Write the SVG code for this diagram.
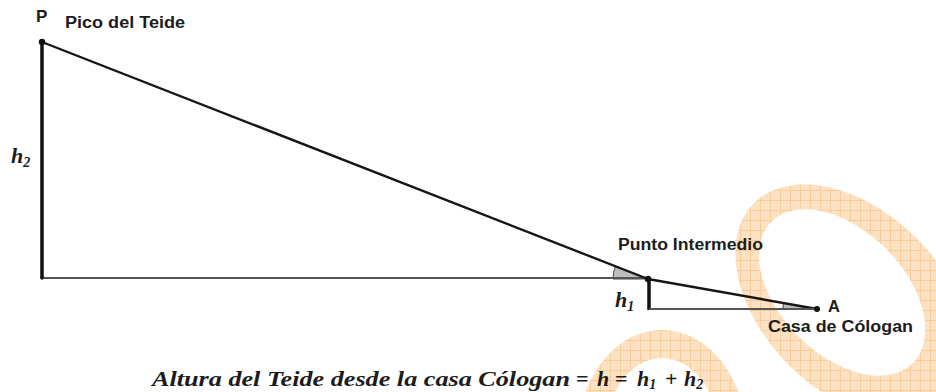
<svg xmlns="http://www.w3.org/2000/svg" width="936" height="392" viewBox="0 0 936 392">
<style>
.lbl{font-family:"Liberation Sans",Arial,sans-serif;font-weight:bold;fill:#1c1c1c}
.math{font-family:"Liberation Serif","Times New Roman",serif;font-style:italic;font-weight:bold;fill:#1c1c1c}
.op{font-family:"Liberation Serif","Times New Roman",serif;font-weight:bold;fill:#1c1c1c}
.thick{stroke:#111;stroke-width:3.5;fill:none}
.slope{stroke:#161616;stroke-width:2.4;fill:none;stroke-linecap:round}
.base{stroke:#555;stroke-width:2;fill:none}
.wedge{fill:#bdbdbd;stroke:#444;stroke-width:1}
.dot{fill:#111}
</style>
<defs>
<pattern id="wm" patternUnits="userSpaceOnUse" width="10" height="10">
<rect width="10" height="10" fill="#fde1c3"/>
<path d="M0 0.5H10M0.5 0V10" stroke="#f9cc9c" stroke-width="1"/>
</pattern>
<clipPath id="ring1">
<path clip-rule="evenodd" transform="translate(853 302) rotate(45)" d="M-140 0A140 90 0 1 0 140 0A140 90 0 1 0 -140 0Z M-114.5 1A100 62 0 1 0 85.5 1A100 62 0 1 0 -114.5 1Z"/>
</clipPath>
</defs>
<rect width="936" height="392" fill="#fff"/>
<g id="watermark">
<rect x="600" y="150" width="336" height="242" fill="url(#wm)" clip-path="url(#ring1)"/>
<path fill="url(#wm)" fill-rule="evenodd" d="M577 440A85 110 0 1 0 747 440A85 110 0 1 0 577 440Z M604 440A58 82 0 1 0 720 440A58 82 0 1 0 604 440Z"/>
</g>
<g id="connectors">
<path class="wedge" d="M648 279L613 279A35 35 0 0 1 615.4 266.2Z"/>
<path class="wedge" d="M817 309L783 309A34 34 0 0 1 783.5 303.1Z"/>
<line class="thick" x1="42" y1="42" x2="42" y2="278"/>
<line class="base" x1="42" y1="278" x2="648" y2="278"/>
<line class="slope" x1="42" y1="42" x2="648" y2="279"/>
<line class="slope" x1="648" y1="279" x2="817" y2="309"/>
<line class="thick" x1="649" y1="279" x2="649" y2="310"/>
<line class="base" x1="649" y1="309" x2="817" y2="309"/>
</g>
<g id="node-P">
<circle class="dot" cx="42" cy="42" r="3.2"/>
<text class="lbl" x="36" y="22" font-size="17">P</text>
<text class="lbl" x="65" y="28" font-size="16" textLength="120" lengthAdjust="spacingAndGlyphs">Pico del Teide</text>
</g>
<g id="node-base">
<circle class="dot" cx="42" cy="278" r="1.8"/>
</g>
<g id="node-punto">
<circle class="dot" cx="648" cy="279" r="3.2"/>
<text class="lbl" x="618" y="250" font-size="16" textLength="145" lengthAdjust="spacingAndGlyphs">Punto Intermedio</text>
</g>
<g id="node-A">
<circle class="dot" cx="817" cy="309" r="3"/>
<text class="lbl" x="828" y="312" font-size="16.5">A</text>
<text class="lbl" x="768" y="332" font-size="16.5" textLength="145" lengthAdjust="spacingAndGlyphs">Casa de Cólogan</text>
</g>
<g id="label-h2">
<text class="math" x="11" y="163" font-size="22">h<tspan font-size="14" dy="4">2</tspan></text>
</g>
<g id="label-h1">
<text class="math" x="615" y="307" font-size="22">h<tspan font-size="14" dy="4">1</tspan></text>
</g>
<g id="formula">
<text class="math" x="152" y="386" font-size="21" textLength="418" lengthAdjust="spacingAndGlyphs">Altura del Teide desde la casa Cólogan</text>
<text class="op" x="576" y="386" font-size="22">=</text>
<text class="math" x="597" y="386" font-size="22">h</text>
<text class="op" x="615" y="386" font-size="22">=</text>
<text class="math" x="637" y="386" font-size="22">h<tspan font-size="14" dy="3">1</tspan></text>
<text class="op" x="665" y="386" font-size="22">+</text>
<text class="math" x="684" y="386" font-size="22">h<tspan font-size="14" dy="3">2</tspan></text>
</g>
</svg>
